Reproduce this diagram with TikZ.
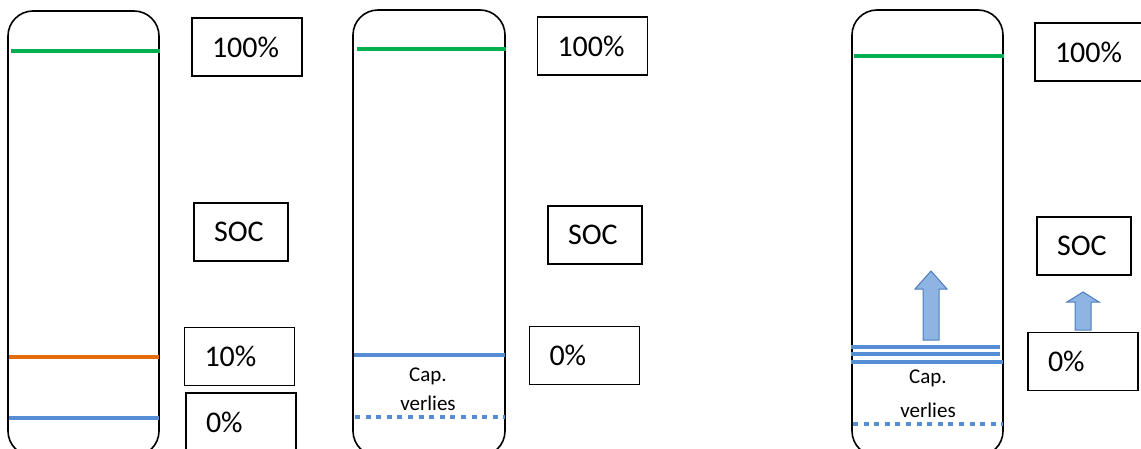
\documentclass[tikz,border=0pt]{standalone}
\usepackage{fontspec}
\setmainfont{Carlito}
\usetikzlibrary{calc}
\definecolor{socgreen}{RGB}{0,176,80}
\definecolor{socorange}{RGB}{228,108,10}
\definecolor{socblue}{RGB}{85,142,213}
\definecolor{arrowfill}{RGB}{142,180,227}
\definecolor{arrowedge}{RGB}{74,126,187}
\tikzset{
  cell/.style={draw=black, line width=1.6pt, rounded corners=25pt},
  level/.style={line width=4.6pt},
  lbl/.style={draw=black, line width=1.6pt, minimum height=58pt, inner xsep=20pt, inner ysep=0pt, text width=70pt, align=left, font=\fontsize{30}{33}\selectfont},
  capnote/.style={anchor=base, inner sep=0pt, font=\fontsize{21}{24}\selectfont},
  blockarrow/.style={fill=arrowfill, draw=arrowedge, line width=1pt, line join=miter}
}

\begin{document}
\begin{tikzpicture}[x=1pt, y=-1pt]
\useasboundingbox (0,0) rectangle (1141,449);
\clip (0,0) rectangle (1141,449);
% left cell
\draw[cell] (8,11) rectangle (159,456);
\draw[level,socgreen] (11,51)--(160,51);
\draw[level,socorange] (9,357)--(159,357);
\draw[level,socblue] (9,418)--(159,418);
\node[lbl] (full1) at (247,47) {100\%};
\node[lbl,text width=54pt] (soc1) at (241,232) {SOC};
\node[lbl] (ten1) at (239.5,356.5) {10\%};
\node[lbl] (zero1) at (241,422) {0\%};
% middle cell
\draw[cell] (353,10) rectangle (505,456);
\draw[level,socgreen] (357,49)--(506,49);
\draw[level,socblue] (354,355)--(505,355);
\draw[level,socblue,dash pattern=on 5pt off 5.6pt] (355,417)--(505,417);
\node[capnote] (cap2) at (428,381) {Cap.};
\node[capnote] (loss2) at (428,410) {verlies};
\node[lbl] (full2) at (592.5,46) {100\%};
\node[lbl,text width=54pt] (soc2) at (595,235) {SOC};
\node[lbl] (zero2) at (584.5,355.5) {0\%};
% right cell
\draw[cell] (852,10) rectangle (1003,456);
\draw[level,socgreen] (854,56)--(1004,56);
\foreach \y/\xe in {347/1000,354/1000,362/1003} {
  \draw[level,socblue] (851,\y)--(\xe,\y);
}
\draw[level,socblue,dash pattern=on 5pt off 5.6pt] (853,424)--(1003,424);
\node[capnote] (cap3) at (928,383) {Cap.};
\node[capnote] (loss3) at (928,417) {verlies};
\draw[blockarrow] (923,340)--(923,289)--(915,289)--(931,271)--(947,289)--(939,289)--(939,340)--cycle;
\node[lbl] (full3) at (1090,52) {100\%};
\node[lbl,text width=54pt] (soc3) at (1084,246) {SOC};
\node[lbl] (zero3) at (1083,361.5) {0\%};
\draw[blockarrow] (1075,330)--(1075,302)--(1067,302)--(1083,292)--(1099,302)--(1091,302)--(1091,330)--cycle;
\end{tikzpicture}
\end{document}
